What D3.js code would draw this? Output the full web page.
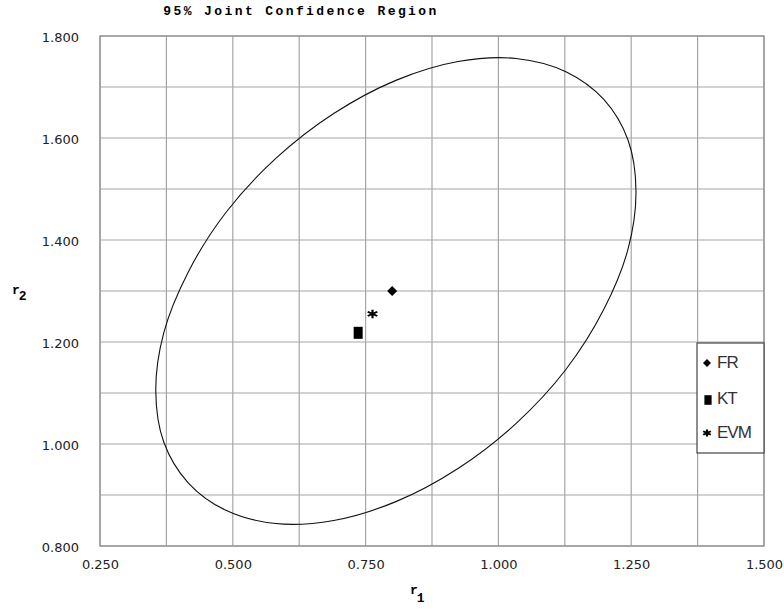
<!DOCTYPE html>
<html>
<head>
<meta charset="utf-8">
<script src="https://cdn.jsdelivr.net/npm/d3@7"></script>
<style>
  body { margin: 0; background: #fff; }
  .tick-label { font-family: "DejaVu Sans", sans-serif; font-size: 13px; fill: #222; }
  .title { font-family: "Liberation Mono", monospace; font-weight: bold; font-size: 13px; letter-spacing: 2.4px; }
  .ax { font-family: "Liberation Mono", monospace; font-weight: bold; }
  .leg { font-family: "Liberation Sans", sans-serif; font-size: 17px; fill: #333; letter-spacing: -1px; }
</style>
</head>
<body>
<div id="chart"></div>
<script>
// chart data
const xTicks = [0.25, 0.5, 0.75, 1.0, 1.25, 1.5];
const yTicks = [0.8, 1.0, 1.2, 1.4, 1.6, 1.8];
const xGrid = [0.375, 0.625, 0.875, 1.125, 1.375];
const yGrid = [0.9, 1.1, 1.3, 1.5, 1.7];

// points along the 95% joint confidence ellipse (r1, r2)
const regionR1 = [1.259, 1.244, 1.198, 1.127, 1.033, 0.924, 0.807, 0.690, 0.581, 0.487, 0.416, 0.370,
                  0.355, 0.370, 0.416, 0.487, 0.581, 0.690, 0.807, 0.924, 1.033, 1.127, 1.198, 1.244];
const regionR2 = [1.496, 1.596, 1.676, 1.730, 1.756, 1.750, 1.713, 1.648, 1.560, 1.454, 1.337, 1.218,
                  1.104, 1.004, 0.924, 0.870, 0.844, 0.850, 0.887, 0.952, 1.040, 1.146, 1.263, 1.382];

// estimates
const methods = ["FR", "KT", "EVM"];
const estR1 = [0.800, 0.736, 0.763];
const estR2 = [1.300, 1.218, 1.255];

const W = 784, H = 613;
const m = {left: 100, right: 20, top: 36, bottom: 67};

const svg = d3.select("#chart").append("svg")
  .attr("width", W).attr("height", H);
svg.append("rect").attr("width", W).attr("height", H).attr("fill", "#fff");

const x = d3.scaleLinear().domain([0.25, 1.5]).range([m.left, W - m.right]);
const y = d3.scaleLinear().domain([0.8, 1.8]).range([H - m.bottom, m.top]);

//grid
const g = svg.append("g");
g.selectAll(".vx").data(xTicks.concat(xGrid)).enter().append("line")
  .attr("x1", d => x(d)).attr("x2", d => x(d))
  .attr("y1", y(0.8)).attr("y2", y(1.8))
  .attr("stroke", "#a6a6a6").attr("stroke-width", 1.2);
g.selectAll(".hy").data(yTicks.concat(yGrid)).enter().append("line")
  .attr("y1", d => y(d)).attr("y2", d => y(d))
  .attr("x1", x(0.25)).attr("x2", x(1.5))
  .attr("stroke", "#a6a6a6").attr("stroke-width", 1.2);
g.append("rect")
  .attr("x", x(0.25)).attr("y", y(1.8))
  .attr("width", x(1.5) - x(0.25)).attr("height", y(0.8) - y(1.8))
  .attr("fill", "none").attr("stroke", "#999").attr("stroke-width", 1.5);

// axes (labels only, no tick marks)
const xAxis = svg.append("g")
  .attr("transform", `translate(0,${y(0.8) + 8})`)
  .call(d3.axisBottom(x).tickValues(xTicks).tickFormat(d3.format(".3f")).tickSize(0));
xAxis.select(".domain").remove();
xAxis.selectAll("text").attr("class", "tick-label").attr("dy", "0.9em");

const yAxis = svg.append("g")
  .attr("transform", `translate(${x(0.25) - 18},0)`)
  .call(d3.axisLeft(y).tickValues(yTicks).tickFormat(d3.format(".3f")).tickSize(0));
yAxis.select(".domain").remove();
yAxis.selectAll("text").attr("class", "tick-label").attr("dy", "0.45em");

// ellipse
const pts = regionR1.map((d, i) => [d, regionR2[i]]);
svg.append("path")
  .datum(pts)
  .attr("d", d3.line().x(d => x(d[0])).y(d => y(d[1])).curve(d3.curveCatmullRomClosed))
  .attr("fill", "none").attr("stroke", "#111").attr("stroke-width", 1.1);

// markers
function marker(sel, i, s) {
  if (i === 0) {
    sel.append("path").attr("d", d3.symbol(d3.symbolSquare, 50 * s * s)())
      .attr("transform", "rotate(45)").attr("fill", "#000");
  } else if (i === 1) {
    sel.append("rect").attr("x", -4.5 * s).attr("y", -6 * s)
      .attr("width", 9 * s).attr("height", 12 * s).attr("fill", "#000");
  } else {
    sel.append("path").attr("d", d3.symbol(d3.symbolAsterisk, 70 * s * s)())
      .attr("transform", "scale(1.1,0.85)")
      .attr("fill", "none").attr("stroke", "#000").attr("stroke-width", 2);
  }
}
methods.forEach((name, i) => {
  const mk = svg.append("g").attr("transform", `translate(${x(estR1[i])},${y(estR2[i])})`);
  marker(mk, i, 1);
});

// legend
const leg = svg.append("g").attr("transform", "translate(697,343)");
leg.append("rect").attr("width", 67).attr("height", 110)
  .attr("fill", "#fff").attr("stroke", "#444").attr("stroke-width", 1.2);
const legY = [19, 55, 89];
methods.forEach((name, i) => {
  const row = leg.append("g").attr("transform", `translate(0,${legY[i]})`);
  const mk = row.append("g").attr("transform", `translate(${i === 1 ? 11 : 10},${i === 1 ? 2 : 1})`);
  marker(mk, i, 0.8);
  row.append("text").attr("class", "leg").attr("x", 20).attr("y", 6).text(name);
});

// titles
svg.append("text").attr("class", "title")
  .attr("x", 301).attr("y", 15).attr("text-anchor", "middle")
  .text("95% Joint Confidence Region");

const xl = svg.append("text").attr("class", "ax").attr("x", 410).attr("y", 594);
xl.append("tspan").attr("font-size", "13px").text("r");
xl.append("tspan").attr("font-size", "13px").attr("dy", 8).attr("dx", -1).text("1");

const yl = svg.append("text").attr("class", "ax").attr("x", 12).attr("y", 294);
yl.append("tspan").attr("font-size", "13px").text("r");
yl.append("tspan").attr("font-size", "13px").attr("dy", 6).attr("dx", -1).text("2");
</script>
</body>
</html>
